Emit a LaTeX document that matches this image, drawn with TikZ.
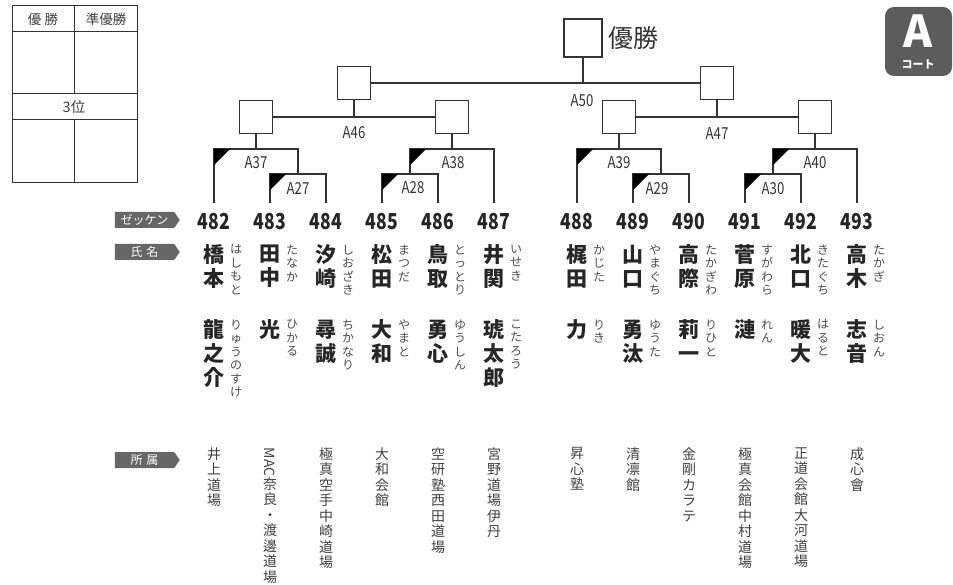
\documentclass[tikz,border=0pt]{standalone}
\usepackage{fontspec}
\usetikzlibrary{shapes.symbols}
\setmainfont{Noto Sans CJK JP}
\newfontfamily\condfont[FakeStretch=0.8]{Noto Sans CJK JP}
\definecolor{ln}{HTML}{333333}
\definecolor{tag}{HTML}{666666}
% stack the characters of a text one below the other
\ExplSyntaxOn
\NewDocumentCommand\tate{m}
 {
  \tl_set:No \l_tmpa_tl {#1}
  \seq_clear:N \l_tmpa_seq
  \tl_map_inline:Nn \l_tmpa_tl { \seq_put_right:Nn \l_tmpa_seq {##1} }
  \seq_use:Nn \l_tmpa_seq {\\}
 }
\ExplSyntaxOff
\begin{document}
\begin{tikzpicture}[x=1pt,y=-1pt,line width=1.4pt,color=ln,
  box/.style={draw=ln,line width=1.6pt,minimum size=33pt,inner sep=0pt,fill=white},
  tagbox/.style={signal,signal to=east,signal pointer angle=110,fill=tag,text=white,
    minimum width=65pt,minimum height=16pt,inner sep=0pt,font=\fontsize{12}{12}\selectfont},
  num/.style={font=\condfont\bfseries\fontsize{22}{22}\selectfont,text=black!85},
  mlab/.style={font=\condfont\fontsize{16.5}{16}\selectfont,text=ln},
  sei/.style={anchor=north,align=center,inner sep=0pt,text=black!85,font=\bfseries\fontsize{21}{24}\selectfont},
  kana/.style={anchor=north,align=center,inner sep=0pt,text=black!70,font=\fontsize{12}{13.5}\selectfont},
  club/.style={anchor=north,align=center,inner sep=0pt,text=black!75,font=\fontsize{14}{15.5}\selectfont}]
\useasboundingbox (0,0) rectangle (953,585);

% result table
\draw[line width=1pt] (12,6) rectangle (137,183)
  (12,32) -- (137,32) (12,94) -- (137,94) (12,120) -- (137,120)
  (74,6) -- (74,94) (74,120) -- (74,183);
\node[text=black!75,font=\fontsize{13.5}{13}\selectfont] (t1) at (43,19) {優 勝};
\node[text=black!75,font=\fontsize{13.5}{13}\selectfont] (t2) at (106,19) {準優勝};
\node[text=black!75,font=\fontsize{14.5}{14}\selectfont] (t3) at (74,107) {3位};

% court badge
\fill[tag!90!black,rounded corners=9pt] (885,7) rectangle (952,76);
\node[text=white,font=\bfseries\fontsize{44}{44}\selectfont] (court) at (918,31) {A};
\node[text=white,font=\bfseries\fontsize{11}{11}\selectfont] (courtj) at (918,64) {コート};

% boxes
\node[box,minimum size=38pt] (f) at (583,38) {};
\node[anchor=west,inner sep=0pt,font=\fontsize{25}{25}\selectfont] (win) at ([xshift=5pt]f.east) {優勝};
\node[box] (s1) at (354,83) {};
\node[box] (s2) at (717,83) {};
\node[box] (q1) at (256,117) {};
\node[box] (q2) at (452,117) {};
\node[box] (q3) at (619,117) {};
\node[box] (q4) at (815,117) {};
\draw (f.south) -- (f.south |- s1.east) (s1.east) -- (s2.west)
  (s1.south) -- (s1.south |- q1.east) (q1.east) -- (q2.west)
  (s2.south) -- (s2.south |- q3.east) (q3.east) -- (q4.west);

% players
\foreach \n/\x in {482/214,483/270,484/326,485/382,486/438,487/494,
                   488/577,489/633,490/689,491/745,492/801,493/857}{
  \coordinate (b\n) at (\x,203);
  \node[num] (n\n) at (\x,222) {\n};
}

% matches
\coordinate (m27) at (298,174); \coordinate (m28) at (410,174);
\coordinate (m29) at (661,174); \coordinate (m30) at (773,174);
\coordinate (m37) at (256,149); \coordinate (m38) at (452,149);
\coordinate (m39) at (619,149); \coordinate (m40) at (815,149);
\draw (b483) |- (m27) -| (b484) (b485) |- (m28) -| (b486)
  (b489) |- (m29) -| (b490) (b491) |- (m30) -| (b492)
  (b482) |- (m37) -| (m27) (m28) |- (m38) -| (b487)
  (b488) |- (m39) -| (m29) (m30) |- (m40) -| (b493)
  (q1.south) -- (m37) (q2.south) -- (m38) (q3.south) -- (m39) (q4.south) -- (m40);
\foreach \a/\b in {b482/m37,b483/m27,m28/m38,b485/m28,b488/m39,b489/m29,m30/m40,b491/m30}
  \fill[black] (\a |- \b) -- ++(16,0) -- ++(-16,16) -- cycle;

\node[mlab] (l27) at (298,188) {A27};
\node[mlab] (l28) at (413,188) {A28};
\node[mlab] (l29) at (657,189) {A29};
\node[mlab] (l30) at (773,189) {A30};
\node[mlab] (l37) at (256,163) {A37};
\node[mlab] (l38) at (453,163) {A38};
\node[mlab] (l39) at (619,163) {A39};
\node[mlab] (l40) at (815,163) {A40};
\node[mlab] (l46) at (354,133) {A46};
\node[mlab] (l47) at (717,133) {A47};
\node[mlab] (l50) at (582,101) {A50};

% row tags
\node[tagbox] (tag1) at (144.5,220) {ゼッケン};
\node[tagbox] (tag2) at (144.5,252) {氏\,\,名};
\node[tagbox] (tag3) at (144.5,460) {所\,\,属};

% names
\foreach \x/\sei/\ksei/\mei/\kmei/\club in {
  214/橋本/はしもと/龍之介/りゅうのすけ/井上道場,
  270/田中/たなか/光/ひかる/{\rotatebox{-90}{MAC}}奈良・渡邊道場,
  326/汐崎/しおざき/尋誠/ちかなり/極真空手中崎道場,
  382/松田/まつだ/大和/やまと/大和会館,
  438/鳥取/とっとり/勇心/ゆうしん/空研塾西田道場,
  494/井関/いせき/琥太郎/こたろう/宮野道場伊丹,
  577/梶田/かじた/力/りき/昇心塾,
  633/山口/やまぐち/勇汰/ゆうた/清凛館,
  689/高際/たかぎわ/莉一/りひと/金剛カラテ,
  745/菅原/すがわら/漣/れん/極真会館中村道場,
  801/北口/きたぐち/暖大/はると/正道会館大河道場,
  857/高木/たかぎ/志音/しおん/成心會}{
  \node[sei] at (\x,244) {\tate{\sei}};
  \node[kana] at (\x+22,244) {\tate{\ksei}};
  \node[sei] at (\x,319) {\tate{\mei}};
  \node[kana] at (\x+22,319) {\tate{\kmei}};
  \node[club] at (\x,447) {\tate{\club}};
}
\end{tikzpicture}
\end{document}
